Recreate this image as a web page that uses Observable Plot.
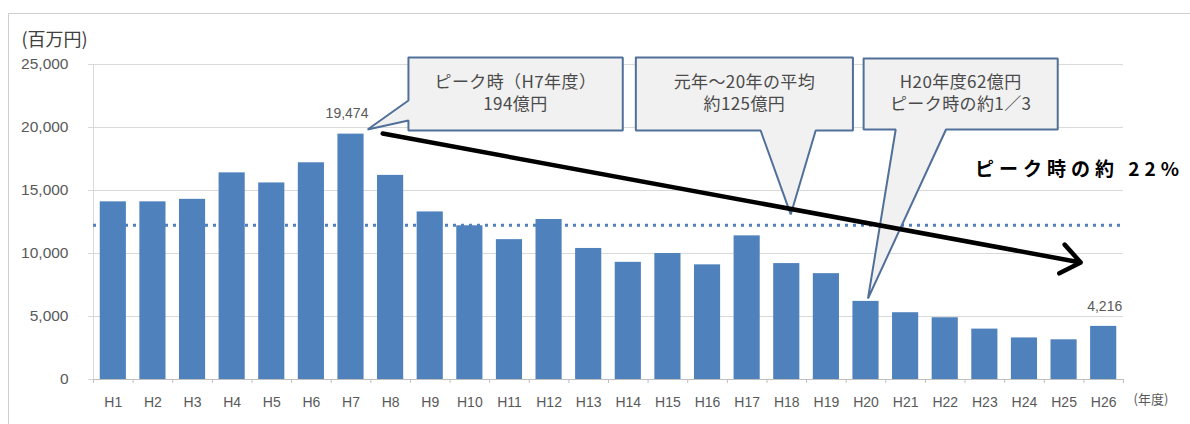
<!DOCTYPE html>
<html>
<head>
<meta charset="utf-8">
<script src="https://cdn.jsdelivr.net/npm/d3@7"></script>
<script src="https://cdn.jsdelivr.net/npm/@observablehq/plot@0.6"></script>
<style>
  html, body { margin: 0; padding: 0; background: #fff; }
  #wrap { position: relative; width: 1190px; height: 424px; overflow: hidden; }
  #frame { position: absolute; left: 8px; top: 13px; width: 1200px; height: 430px;
           border-left: 1px solid #cfcfcf; border-top: 1px solid #cfcfcf; box-sizing: border-box; }
  #chart { position: absolute; left: 0; top: 0; }
</style>
</head>
<body>
<div id="wrap"><div id="frame"></div><div id="chart"></div></div>
<script>
// ---- data ----
const categories = ["H1","H2","H3","H4","H5","H6","H7","H8","H9","H10","H11","H12","H13",
  "H14","H15","H16","H17","H18","H19","H20","H21","H22","H23","H24","H25","H26"];
const values = [14100, 14100, 14300, 16400, 15600, 17200, 19474, 16200, 13300, 12200, 11100, 12700, 10400,
  9300, 10000, 9100, 11400, 9200, 8400, 6200, 5300, 4900, 4000, 3300, 3150, 4216];
const yTicks = [0, 5000, 10000, 15000, 20000, 25000];
const average = 12250;
const labelled = ["H7", "H26"];

// annotation geometry, in data units (x = year index, y = 百万円)
const callout1 = [[8.45,25560],[13.86,25560],[13.86,19760],[8.45,19760],[8.45,20560],[7.42,19840],[8.45,22140],[8.45,25560]];
const callout2 = [[14.19,25560],[19.67,25560],[19.67,19760],[18.73,19760],[18.1,13100],[17.34,19760],[14.19,19760],[14.19,25560]];
const callout3 = [[19.94,25480],[24.84,25480],[24.84,19840],[22.02,19840],[20.05,6430],[20.75,19840],[19.94,19840],[19.94,25480]];
const calloutTexts = [
  {x: 11.15, y: 23600, text: "ピーク時（H7年度）"},
  {x: 11.15, y: 21800, text: "194億円"},
  {x: 16.93, y: 23600, text: "元年～20年の平均"},
  {x: 16.93, y: 21800, text: "約125億円"},
  {x: 22.39, y: 23600, text: "H20年度62億円"},
  {x: 22.39, y: 21800, text: "ピーク時の約1／3"}
];
const trendArrow = [{x1: 7.80, y1: 19520, x2: 25.42, y2: 9290}];
const trendNote = {x: 22.75, y: 16600, text: "ピーク時の約 22%"};

const data = categories.map((c, i) => ({cat: c, idx: i + 1, value: values[i]}));
const boundaries = d3.range(0, categories.length + 1).map(d => d + 0.5);
const pts = a => a.map(([x, y]) => ({x, y}));

const blue = "#4F81BD";
const grid = "#d9d9d9";
const tickColor = "#595959";
const sans = "'Liberation Sans', Arial, 'Noto Sans CJK JP', sans-serif";
const cjk = "'Noto Sans CJK JP', 'Liberation Sans', sans-serif";

const plot = Plot.plot({
  width: 1190,
  height: 424,
  marginLeft: 93,
  marginRight: 67,
  marginTop: 64,
  marginBottom: 45,
  style: {fontFamily: sans, background: "transparent", overflow: "visible"},
  x: {domain: [0.5, categories.length + 0.5], axis: null},
  y: {domain: [0, 25000], axis: null},
  marks: [
    Plot.ruleY(yTicks, {stroke: grid, strokeWidth: 1.2, insetLeft: -5}),
    Plot.ruleX([0.5], {y1: 0, y2: 25000, stroke: grid}),
    Plot.axisY({ticks: yTicks, tickFormat: d3.format(","), tickSize: 0, tickPadding: 25,
      fontSize: 15.5, fill: tickColor}),
    Plot.axisX({ticks: boundaries, tickFormat: () => "", tickSize: 4, stroke: "#bfbfbf"}),
    Plot.axisX({ticks: d3.range(1, categories.length + 1), tickFormat: d => categories[d - 1],
      tickSize: 0, tickPadding: 18, fontSize: 14, fill: tickColor}),
    Plot.ruleY([0], {stroke: "#bfbfbf", strokeWidth: 1.2}),
    Plot.rectY(data, {x1: d => d.idx - 0.33, x2: d => d.idx + 0.33, y: "value", fill: blue}),
    Plot.ruleY([average], {x1: 0.5, x2: categories.length + 0.5, stroke: blue,
      strokeWidth: 3, strokeDasharray: "3,5"}),
    Plot.text(data.filter(d => d.cat === labelled[0]), {
      x: "idx", y: "value", text: d => d3.format(",")(d.value), dy: -21, dx: -4,
      fontSize: 14, fill: tickColor, fontFamily: sans}),
    Plot.text(data.filter(d => d.cat === labelled[1]), {
      x: "idx", y: "value", text: d => d3.format(",")(d.value), dy: -20, dx: 1,
      fontSize: 14, fill: tickColor, fontFamily: sans}),
    ...[callout1, callout2, callout3].map(c =>
      Plot.line(pts(c), {x: "x", y: "y", fill: "#f1f1f1", stroke: "#50709a", strokeWidth: 2,
        strokeLinejoin: "miter", curve: "linear"})),
    Plot.text(calloutTexts, {x: "x", y: "y", text: "text", fontSize: 17, fill: "#4a4a4a", fontFamily: cjk}),
    Plot.arrow(trendArrow, {x1: "x1", y1: "y1", x2: "x2", y2: "y2", stroke: "#000",
      strokeWidth: 4.5, headLength: 8, headAngle: 75}),
    Plot.text([trendNote], {x: "x", y: "y", text: "text", fontSize: 19, fontWeight: "bold",
      fill: "#000", textAnchor: "start", fontFamily: cjk}),
    Plot.text(["(百万円)"], {frameAnchor: "top-left", dx: -72, dy: -31, text: d => d,
      fontSize: 18, fill: "#404040", textAnchor: "start", fontFamily: cjk}),
    Plot.text(["(年度)"], {frameAnchor: "bottom-right", dx: 10, dy: 24, text: d => d,
      fontSize: 13, fill: tickColor, textAnchor: "start", fontFamily: cjk})
  ]
});
d3.select(plot).selectAll("text").filter(function () { return this.textContent === trendNote.text; })
  .style("letter-spacing", "5px");
d3.select(plot).selectAll("text").filter(function () { return calloutTexts.some(c => c.text === this.textContent); })
  .style("letter-spacing", "0.4px");
document.getElementById("chart").appendChild(plot);
</script>
</body>
</html>
